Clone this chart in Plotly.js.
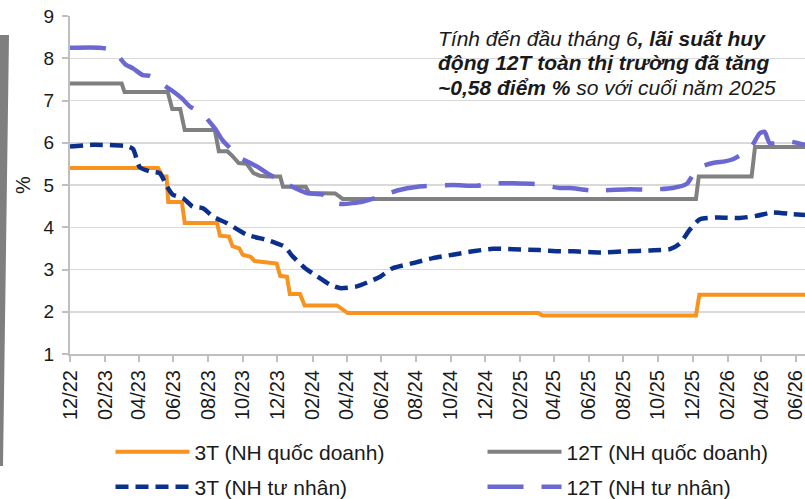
<!DOCTYPE html>
<html>
<head>
<meta charset="utf-8">
<script src="https://cdn.plot.ly/plotly-3.0.1.min.js"></script>
<style>
  html, body { margin: 0; padding: 0; background: #ffffff; }
  #chart { width: 805px; height: 499px; }
</style>
</head>
<body>
<div id="chart"></div>
<script>
// ---- Data ----
const seriesNames = ['3T (NH quốc doanh)', '12T (NH quốc doanh)', '3T (NH tư nhân)', '12T (NH tư nhân)'];

const dates3QD = ['2022-12-01','2023-05-05','2023-05-13','2023-05-20','2023-05-23','2023-06-16','2023-06-21','2023-08-17','2023-08-22','2023-09-07','2023-09-13','2023-09-25','2023-10-01','2023-10-15','2023-10-22','2023-11-10','2023-11-30','2023-12-06','2023-12-18','2023-12-23','2024-01-10','2024-01-18','2024-03-15','2024-04-03','2025-03-04','2025-03-12','2025-12-07','2025-12-13','2026-06-17'];
const vals3QD  = [5.4,5.4,5.2,5.2,4.6,4.6,4.1,4.1,3.8,3.78,3.55,3.5,3.35,3.3,3.2,3.17,3.14,2.85,2.83,2.42,2.42,2.15,2.15,1.97,1.97,1.91,1.91,2.4,2.4];

const dates12QD = ['2022-12-01','2023-03-02','2023-03-07','2023-05-22','2023-05-30','2023-06-13','2023-06-21','2023-08-13','2023-08-20','2023-09-04','2023-09-12','2023-09-24','2023-10-08','2023-10-20','2023-10-31','2023-11-13','2023-12-06','2023-12-11','2024-01-20','2024-01-26','2024-03-12','2024-03-25','2025-12-07','2025-12-12','2026-03-15','2026-03-21','2026-06-17'];
const vals12QD  = [7.4,7.4,7.2,7.2,6.8,6.8,6.3,6.3,5.8,5.8,5.7,5.52,5.5,5.28,5.22,5.2,5.2,4.96,4.96,4.81,4.8,4.67,4.67,5.2,5.2,5.9,5.9];

const dates3TN = ['2022-12-01','2023-01-10','2023-03-11','2023-03-22','2023-04-03','2023-04-21','2023-05-08','2023-05-21','2023-05-31','2023-06-18','2023-07-05','2023-07-23','2023-08-10','2023-09-03','2023-10-09','2023-11-13','2023-11-30','2023-12-14','2023-12-28','2024-01-19','2024-02-09','2024-03-03','2024-03-20','2024-04-19','2024-05-12','2024-05-30','2024-06-21','2024-07-27','2024-08-31','2024-10-05','2024-11-09','2024-12-14','2025-01-19','2025-03-07','2025-04-11','2025-05-05','2025-06-21','2025-08-07','2025-09-17','2025-10-22','2025-11-09','2025-11-26','2025-12-14','2026-01-13','2026-02-22','2026-03-24','2026-04-21','2026-05-26','2026-06-17'];
const vals3TN  = [5.91,5.95,5.92,5.85,5.42,5.32,5.28,4.96,4.77,4.69,4.49,4.45,4.25,4.10,3.82,3.70,3.62,3.54,3.31,3.03,2.84,2.64,2.56,2.60,2.72,2.83,3.03,3.15,3.27,3.35,3.43,3.49,3.48,3.46,3.43,3.43,3.40,3.43,3.45,3.48,3.62,3.94,4.19,4.23,4.22,4.27,4.35,4.31,4.29];

const dates12TN = ['2022-12-01','2023-01-23','2023-02-15','2023-03-08','2023-03-22','2023-04-08','2023-04-21','2023-05-03','2023-05-30','2023-06-16','2023-06-30','2023-07-21','2023-08-13','2023-08-26','2023-09-09','2023-09-23','2023-10-26','2023-11-13','2023-12-18','2024-01-22','2024-02-19','2024-03-03','2024-03-24','2024-04-30','2024-05-30','2024-06-29','2024-08-04','2024-10-05','2024-11-16','2024-12-14','2025-01-19','2025-03-02','2025-04-11','2025-04-29','2025-06-08','2025-08-13','2025-09-17','2025-10-27','2025-11-21','2025-12-10','2026-01-06','2026-01-27','2026-02-10','2026-03-12','2026-03-29','2026-04-07','2026-04-16','2026-05-21','2026-06-17'];
const vals12TN  = [8.25,8.25,8.18,7.86,7.76,7.60,7.58,7.47,7.23,7.05,6.86,6.70,6.34,6.07,5.87,5.67,5.44,5.28,5.02,4.81,4.77,4.61,4.55,4.61,4.73,4.87,4.96,5.00,4.98,5.04,5.04,5.02,4.93,4.93,4.87,4.90,4.89,4.93,5.03,5.40,5.52,5.56,5.61,5.85,6.22,6.26,5.99,6.03,5.95];

const yTickVals = [1,2,3,4,5,6,7,8,9];
const xRange = ['2022-12-01','2026-06-17'];
const noteLines = [
  '<i>Tính đến đầu tháng 6</i><b><i>, lãi suất huy</i></b>',
  '<b><i>động 12T toàn thị trường đã tăng</i></b>',
  '<b><i>~0,58 điểm %</i></b><i> so với cuối năm 2025</i>'
];

// ---- Chart ----
const FONT = 'Liberation Sans, Arial, sans-serif';
const PL = 70, PT = 16, PW = 735, PH = 338;
const px = v => (v - PL) / PW;        // pixel x -> paper x
const py = v => (PT + PH - v) / PH;   // pixel y -> paper y

const traces = [
  { x: dates3QD, y: vals3QD, name: seriesNames[0], mode: 'lines', type: 'scatter',
    line: { color: '#F7931E', width: 4 }, legend: 'legend' },
  { x: dates12QD, y: vals12QD, name: seriesNames[1], mode: 'lines', type: 'scatter',
    line: { color: '#808080', width: 4 }, legend: 'legend2' },
  { x: dates3TN, y: vals3TN, name: seriesNames[2], mode: 'lines', type: 'scatter',
    line: { color: '#0B2F8C', width: 4.5, dash: '13px,7px', shape: 'spline', smoothing: 0.6 }, legend: 'legend3' },
  { x: dates12TN, y: vals12TN, name: seriesNames[3], mode: 'lines', type: 'scatter',
    line: { color: '#6B68D2', width: 4.5, dash: '36px,18px', shape: 'spline', smoothing: 0.6 }, legend: 'legend4' }
];

const legendCommon = {
  orientation: 'h', xanchor: 'left', yanchor: 'middle',
  font: { family: FONT, size: 21, color: '#1a1a1a' },
  bgcolor: 'rgba(0,0,0,0)', itemwidth: 74
};
const colX = [px(110.5), px(482.5)];
const rowY = [py(452), py(487)];
const noteY = [38, 62.5, 87.5];

const layout = {
  width: 805, height: 499,
  margin: { l: PL, r: 0, t: PT, b: 499 - PT - PH, autoexpand: false },
  paper_bgcolor: '#ffffff', plot_bgcolor: '#ffffff',
  font: { family: FONT, size: 19, color: '#1a1a1a' },
  showlegend: true,
  xaxis: {
    type: 'date', range: xRange, tick0: '2022-12-01', dtick: 'M2', tickformat: '%m/%y',
    tickangle: -90, ticks: 'outside', ticklen: 6, tickwidth: 2, tickcolor: '#bfbfbf',
    showline: true, linecolor: '#bfbfbf', linewidth: 2, showgrid: false, zeroline: false,
    ticklabeloverflow: 'allow',
    tickfont: { family: FONT, size: 20, color: '#1a1a1a' }, fixedrange: true
  },
  yaxis: {
    range: [1, 9], tickvals: yTickVals, ticks: 'outside', ticklen: 6, tickwidth: 2, tickcolor: '#bfbfbf',
    showline: true, linecolor: '#bfbfbf', linewidth: 2, showgrid: true, gridcolor: '#d9d9d9', gridwidth: 1.5,
    zeroline: false, tickfont: { family: FONT, size: 19, color: '#1a1a1a' }, ticklabelstandoff: 4,
    title: { text: '%', font: { family: FONT, size: 20, color: '#1a1a1a' }, standoff: 8 }, fixedrange: true
  },
  legend:  Object.assign({}, legendCommon, { x: colX[0], y: rowY[0] }),
  legend2: Object.assign({}, legendCommon, { x: colX[1], y: rowY[0] }),
  legend3: Object.assign({}, legendCommon, { x: colX[0], y: rowY[1] }),
  legend4: Object.assign({}, legendCommon, { x: colX[1], y: rowY[1] }),
  annotations: noteLines.map((t, i) => ({
    xref: 'paper', yref: 'paper', x: px(436), y: py(noteY[i]),
    xanchor: 'left', yanchor: 'middle', align: 'left', showarrow: false,
    text: t, font: { family: FONT, size: 21, color: '#1a1a1a' }
  })),
  shapes: [{
    type: 'path', xref: 'paper', yref: 'paper', layer: 'above',
    path: 'M ' + px(0) + ',' + py(35) + ' L ' + px(9) + ',' + py(35) +
          ' L ' + px(3) + ',' + py(466) + ' L ' + px(0) + ',' + py(466) + ' Z',
    fillcolor: '#7f7f7f', line: { width: 0 }
  }]
};

Plotly.newPlot('chart', traces, layout, { staticPlot: true, displayModeBar: false });
</script>
</body>
</html>
